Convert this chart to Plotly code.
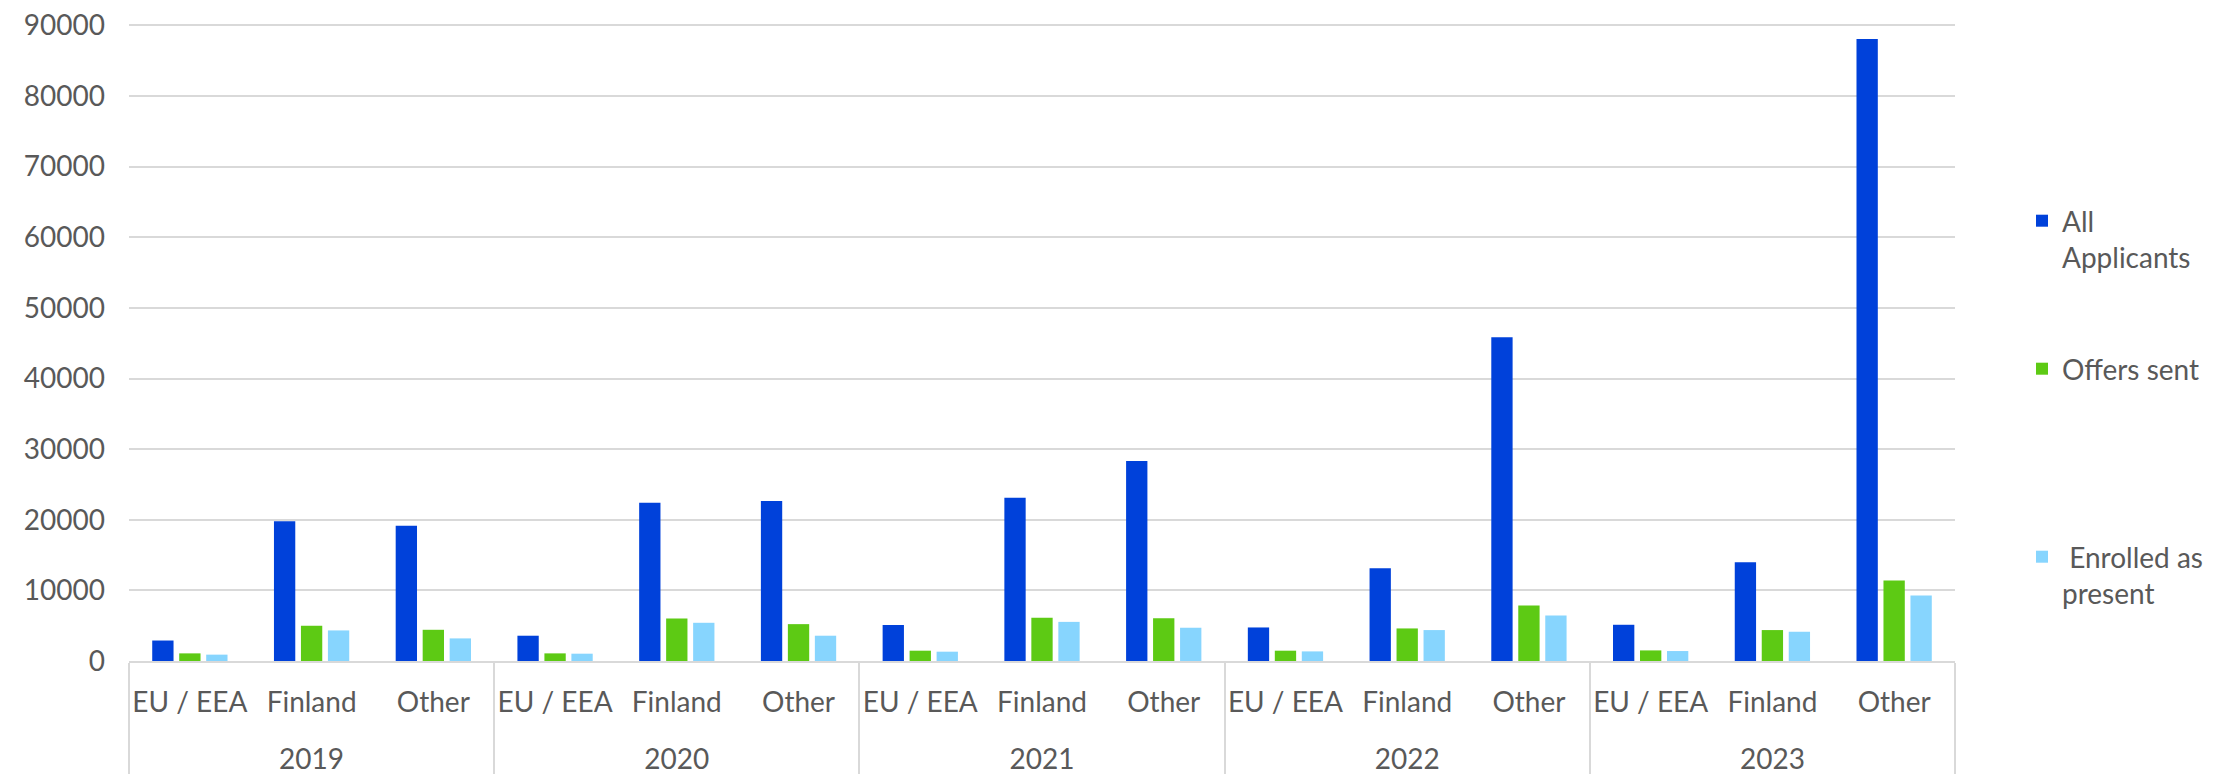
import plotly.graph_objects as go

years = ["2019", "2020", "2021", "2022", "2023"]
regions = ["EU / EEA", "Finland", "Other"]

all_applicants = [2900, 19800, 19150, 3580, 22400, 22640, 5100, 23100, 28330,
                  4750, 13130, 45840, 5130, 13980, 88080]
offers_sent = [1080, 4990, 4420, 1080, 6020, 5220, 1460, 6110, 6070,
               1460, 4610, 7860, 1500, 4380, 11390]
enrolled = [900, 4330, 3200, 1035, 5410, 3580, 1320, 5540, 4710,
            1360, 4380, 6450, 1410, 4140, 9270]

series_names = ["All<br>Applicants", "Offers sent", " Enrolled as<br>present"]
colors = ["#0041DA", "#5DCA14", "#87D5FE"]

# outer level shown one line lower (extra spacing like the original)
year_labels = ["<br>" + y for y in years]
x = [[y for y in year_labels for _ in regions], [r for _ in years for r in regions]]

FONT = "Lato, Liberation Sans, Arial, sans-serif"
TXT = "#595959"
GRID = "#d9d9d9"

W, H = 2206, 766  # page body has an 8px margin

fig = go.Figure()
legends = ["legend", "legend2", "legend3"]
for name, vals, col, lg in zip(series_names, [all_applicants, offers_sent, enrolled], colors, legends):
    fig.add_trace(go.Bar(x=x, y=vals, name=name, marker=dict(color=col, line=dict(width=0)),
                         legend=lg, showlegend=True))

leg_common = dict(xref="container", yref="container", xanchor="left", yanchor="top",
                  bgcolor="rgba(0,0,0,0)", valign="top",
                  font=dict(family=FONT, size=28, color=TXT))

fig.update_layout(
    width=W, height=H,
    margin=dict(l=121, r=259, t=16, b=113),
    paper_bgcolor="white", plot_bgcolor="white",
    showlegend=True,
    barmode="group", bargap=0.335, bargroupgap=0.21,
    font=dict(family=FONT, size=28, color=TXT),
    legend=dict(x=2014 / W, y=1 - 188 / H, **leg_common),
    legend2=dict(x=2014 / W, y=1 - 336 / H, **leg_common),
    legend3=dict(x=2014 / W, y=1 - 524 / H, **leg_common),
    xaxis=dict(type="multicategory", showline=True, linecolor=GRID, linewidth=2,
               showgrid=False, ticks="", showdividers=True, dividercolor=GRID,
               dividerwidth=2, tickangle=0, automargin=False, ticklabelstandoff=15,
               tickfont=dict(family=FONT, size=28, color=TXT)),
    yaxis=dict(range=[0, 90200], tickvals=[i * 10000 for i in range(10)], showgrid=True,
               gridcolor=GRID, gridwidth=2, zeroline=False, showline=False, ticks="",
               ticklabelstandoff=23, tickformat="d", automargin=False,
               ticklabeloverflow="allow",
               tickfont=dict(family=FONT, size=28, color=TXT)),
)

fig.write_html("out.html")
